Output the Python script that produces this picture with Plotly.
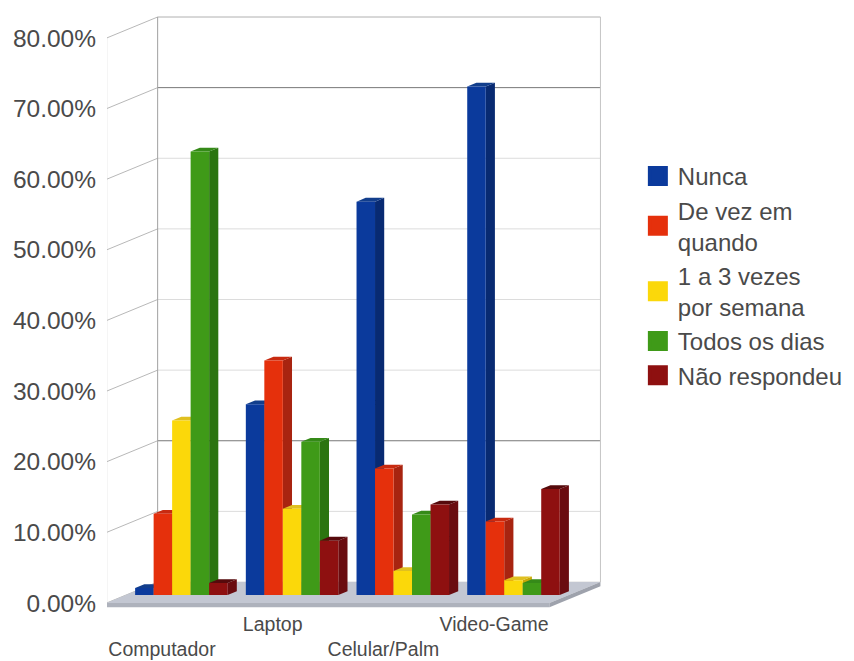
import plotly.graph_objects as go

categories = ["Computador", "Laptop", "Celular/Palm", "Video-Game"]
tick_text = ["<br>Computador", "Laptop", "<br>Celular/Palm", "Video-Game"]
series_names = ["Nunca", "De vez em<br>quando", "1 a 3 vezes<br>por semana", "Todos os dias", "Não respondeu"]
nunca = [1.0, 27.0, 55.7, 72.0]
de_vez = [11.5, 33.2, 17.9, 10.4]
um_a_tres = [24.7, 12.2, 3.4, 2.1]
todos = [62.8, 21.7, 11.4, 1.7]
nao_resp = [1.7, 7.7, 12.8, 15.0]
y_ticks = [0, 10, 20, 30, 40, 50, 60, 70, 80]
y_tick_labels = ["0.00%", "10.00%", "20.00%", "30.00%", "40.00%", "50.00%", "60.00%", "70.00%", "80.00%"]
dark_grid = [20, 70]

series = [nunca, de_vez, um_a_tres, todos, nao_resp]
front_c = ["#0b3a9c", "#e5300c", "#fbd80a", "#3f9a18", "#8e1010"]
side_c = ["#082a72", "#a82410", "#c8a808", "#2b7410", "#6a0c10"]
top_c = ["#123e8c", "#c82a10", "#e0c020", "#358a18", "#560a0c"]

# oblique projection, in axis units
DX, DY = 51 / 110.7, 21 / 7.0625
BAR_W = 18.5 / 110.7
D0, D1 = 0.38, 0.56
XMIN, XMAX = -0.5, 3.5


def P(x, v, d):
    return x + d * DX, v + d * DY


def poly(points):
    xs, ys = zip(*points)
    return list(xs) + [xs[0], None], list(ys) + [ys[0], None]


def add_poly(fig, polys, color):
    X, Y = [], []
    for p in polys:
        a, b = poly(p)
        X += a
        Y += b
    fig.add_trace(go.Scatter(x=X, y=Y, mode="lines", fill="toself", fillcolor=color,
                             line=dict(width=0, color=color), showlegend=False, hoverinfo="skip"))


def add_line(fig, pts, color, width=1):
    fig.add_trace(go.Scatter(x=[p[0] for p in pts], y=[p[1] for p in pts], mode="lines",
                             line=dict(color=color, width=width), showlegend=False, hoverinfo="skip"))


fig = go.Figure()

# walls
for v in y_ticks:
    c = "#777777" if v in dark_grid else ("#b0b0b0" if v == 80 else "#dcdcdc")
    add_line(fig, [P(XMIN, v, 0), P(XMIN, v, 1)], "#b8b8b8")
    add_line(fig, [P(XMIN, v, 1), P(XMAX, v, 1)], c)
add_line(fig, [P(XMIN, 0, 0), P(XMIN, 80, 0)], "#b4b4b4")
add_line(fig, [P(XMIN, 0, 1), P(XMIN, 80, 1)], "#a0a0a0")
add_line(fig, [P(XMAX, 0, 1), P(XMAX, 80, 1)], "#c4c4c4")

# floor
add_poly(fig, [[P(XMIN, 0, 0), P(XMAX, 0, 0), P(XMAX, 0, 1), P(XMIN, 0, 1)]], "#c3c7d2")
add_poly(fig, [[P(XMIN, 0, 0), P(XMAX, 0, 0), P(XMAX, -0.6, 0), P(XMIN, -0.6, 0)]], "#aeb2bc")
add_poly(fig, [[P(XMAX, 0, 0), P(XMAX, 0, 1), P(XMAX, -0.6, 1), P(XMAX, -0.6, 0)]], "#9ea2ac")

# bars
for k, vals in enumerate(series):
    sides, tops, fronts = [], [], []
    for i, v in enumerate(vals):
        x0 = i + (k - 2.5) * BAR_W
        x1 = x0 + BAR_W
        fronts.append([P(x0, 0, D0), P(x1, 0, D0), P(x1, v, D0), P(x0, v, D0)])
        sides.append([P(x1, 0, D0), P(x1, 0, D1), P(x1, v, D1), P(x1, v, D0)])
        tops.append([P(x0, v, D0), P(x1, v, D0), P(x1, v, D1), P(x0, v, D1)])
    add_poly(fig, sides, side_c[k])
    add_poly(fig, tops, top_c[k])
    add_poly(fig, fronts, front_c[k])

# legend entries
for k, name in enumerate(series_names):
    fig.add_trace(go.Scatter(x=[None], y=[None], mode="markers", name=name,
                             marker=dict(symbol="square", size=16, color=front_c[k],
                                         line=dict(width=4, color=front_c[k]))))

fig.update_layout(
    width=854, height=661, autosize=False,
    margin=dict(l=107, r=214, t=0, b=48, autoexpand=False),
    paper_bgcolor="white", plot_bgcolor="white",
    font=dict(family="Liberation Sans", color="#4a4a4a"),
    xaxis=dict(range=[(107 - 162) / 110.7, (640 - 162) / 110.7], tickvals=[0, 1, 2, 3], ticktext=tick_text,
               showgrid=False, zeroline=False, showline=False, ticks="", tickfont=dict(size=19.5), tickangle=0,
               automargin=False, ticklabelstandoff=-3),
    yaxis=dict(range=[-10 / 7.0625, 603 / 7.0625], tickvals=y_ticks, ticktext=y_tick_labels,
               showgrid=False, zeroline=False, showline=False, ticks="", ticklabelstandoff=10,
               tickfont=dict(size=24.5), automargin=False),
    legend=dict(x=0.996, xref="paper", xanchor="left", y=0.749, yref="paper", yanchor="top",
                font=dict(size=24), bgcolor="rgba(0,0,0,0)", itemsizing="trace", traceorder="normal"),
    showlegend=True,
)
fig.write_html("out.html", post_script="document.body.style.margin='0';",
               config={"displayModeBar": False})
